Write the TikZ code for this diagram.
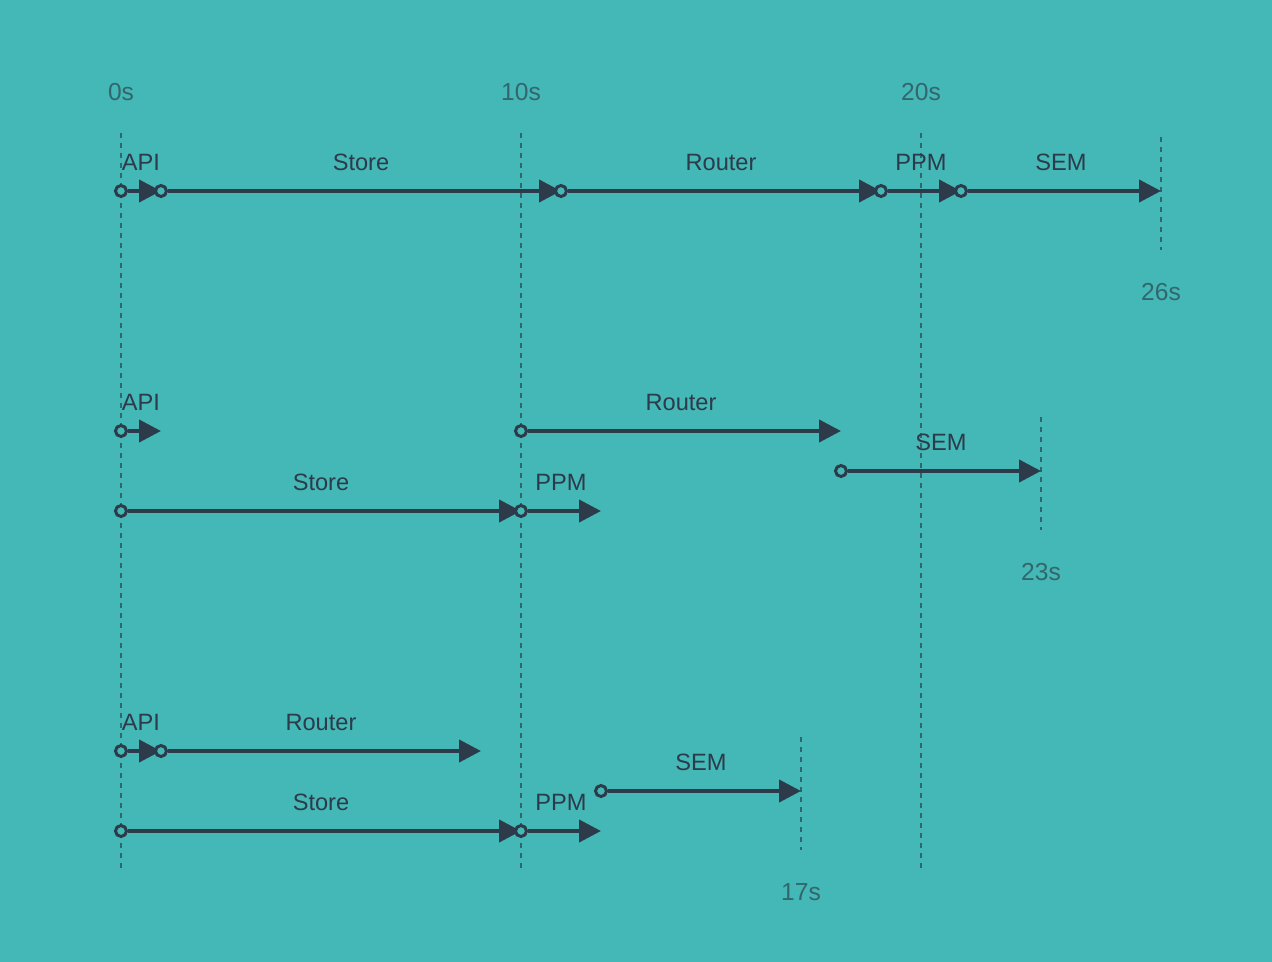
\documentclass[tikz,border=0pt]{standalone}
\usepackage{fontspec}
\setmainfont{Liberation Sans}
\usetikzlibrary{arrows.meta}

\definecolor{bgteal}{HTML}{43B8B6}
\definecolor{inkdark}{HTML}{2D3A4A}
\definecolor{gridink}{HTML}{33666C}

\begin{document}
\begin{tikzpicture}[
    x=20pt, y=-0.5pt,
    % --- Styles ---
    grid line/.style={draw=gridink, line width=1pt, dash pattern=on 2.5pt off 2.5pt},
    tick label/.style={text=gridink, font=\fontsize{12.3}{14}\selectfont, anchor=center},
    task label/.style={text=inkdark, font=\fontsize{11.8}{14}\selectfont, anchor=center},
    % Open circle marking the start of a task
    start dot/.style={circle, draw=inkdark, fill=bgteal, line width=1.5pt,
                      minimum size=5.5pt, inner sep=0pt},
    task arrow/.style={draw=inkdark, line width=2pt,
                       -{Triangle[length=11pt, width=11pt]}}
]

% background, margins included (0s sits at 121px)
\fill[bgteal] (-3.025,0) rectangle (28.775,962);
\useasboundingbox (-3.025,0) rectangle (28.775,962);

%================TIME AXIS================
\foreach \t [count=\g] in {0,10,20} {
    \coordinate (gtop\g) at (\t,133);
    \coordinate (gbot\g) at (\t,870);
    \draw[grid line] (gtop\g) -- (gbot\g);
    \node[tick label] (tick\g) at (\t,92) {\t s};
}

% end of each schedule: time / row y
\foreach \t/\y [count=\m] in {26/191, 23/471, 17/791} {
    \coordinate (mtop\m) at (\t,\y-54);
    \coordinate (mbot\m) at (\t,\y+59);
    \draw[grid line] (mtop\m) -- (mbot\m);
    \node[tick label] (total\m) at (\t,\y+101) {\t s};
}

%================TASKS================
% start / duration / y / name
\foreach \s/\d/\y/\name [count=\k] in {
    0/1/191/API, 1/10/191/Store, 11/8/191/Router, 19/2/191/PPM, 21/5/191/SEM,
    0/1/431/API, 10/8/431/Router, 0/10/511/Store, 10/2/511/PPM, 18/5/471/SEM,
    0/1/751/API, 1/8/751/Router, 0/10/831/Store, 10/2/831/PPM, 12/5/791/SEM} {

    \node[start dot] (s\k) at (\s,\y) {};
    \coordinate (e\k) at (\s+\d,\y);
    \draw[task arrow] (s\k) -- (e\k);

    % name centred above the bar
    \node[task label] (l\k) at (\s+\d/2,\y-29) {\name};
}

\end{tikzpicture}
\end{document}
